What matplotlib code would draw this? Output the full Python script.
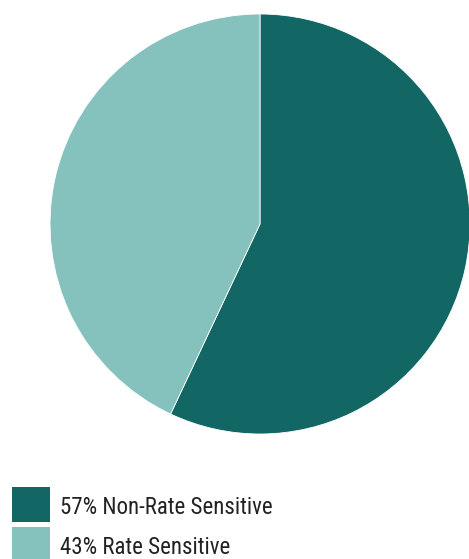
import matplotlib
matplotlib.use("Agg")
import matplotlib.pyplot as plt
from matplotlib.patches import Rectangle

labels = ["57% Non-Rate Sensitive", "43% Rate Sensitive"]
shares = [57, 43]
colors = ["#126765", "#86c2bd"]

W, H = 469, 559
fig = plt.figure(figsize=(W / 100, H / 100), dpi=100)

# pie: centre (260, 224) px from top-left, radius 210 px
cx, cy, r = 260, 224, 210
ax = fig.add_axes([(cx - r) / W, (H - cy - r) / H, 2 * r / W, 2 * r / H])
ax.pie(shares, colors=colors, startangle=90, counterclock=False, radius=1,
       wedgeprops=dict(edgecolor="white", linewidth=0.6))
ax.set_xlim(-1, 1)
ax.set_ylim(-1, 1)
ax.set_aspect("equal")
ax.axis("off")
for p in ax.patches:
    p.set_clip_on(False)

# legend
font = ["Roboto Condensed", "DejaVu Sans"]
for i, (lab, col) in enumerate(zip(labels, colors)):
    top = 487 + i * 40
    fig.patches.append(Rectangle((12 / W, (H - top - 35) / H), 38 / W, 35 / H,
                                 transform=fig.transFigure, facecolor=col,
                                 edgecolor="none"))
    fig.text(60 / W, (H - top - 20) / H, lab, fontsize=16.5, family=font,
             color="#222222", va="center", ha="left")

fig.savefig("out.png", dpi=100)
